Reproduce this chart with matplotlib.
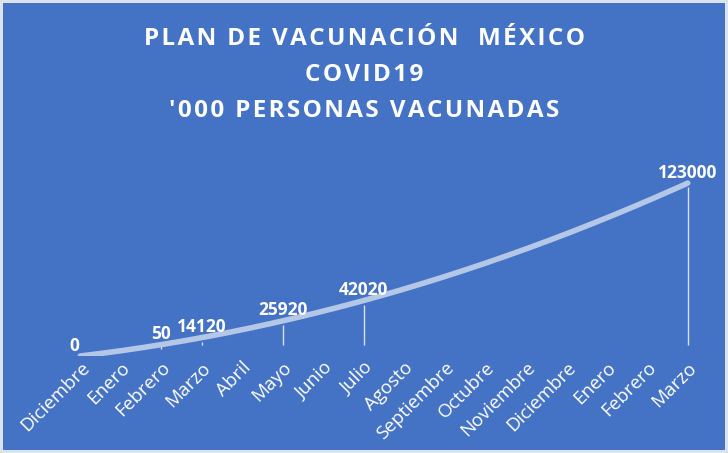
import numpy as np
import matplotlib.pyplot as plt

meses = ["Diciembre", "Enero", "Febrero", "Marzo", "Abril", "Mayo", "Junio",
         "Julio", "Agosto", "Septiembre", "Octubre", "Noviembre", "Diciembre",
         "Enero", "Febrero", "Marzo"]
# months that carry a value (index into meses) and the vaccinated count ('000)
idx_valor = [0, 2, 3, 5, 7, 15]
vacunados = [0, 50, 14120, 25920, 42020, 123000]
titulo = ["PLAN DE VACUNACIÓN  MÉXICO", "COVID19", "'000 PERSONAS VACUNADAS"]

azul = "#4472C4"
linea = "#B4C7E7"

fig = plt.figure(figsize=(7.28, 4.53), dpi=100)
fig.patch.set_facecolor(azul)
fig.patch.set_edgecolor("#dde3ec")
fig.patch.set_linewidth(4)

ax = fig.add_axes([60 / 728, 1 - 356 / 453, 648 / 728, 182 / 453])
ax.set_facecolor(azul)

# quadratic trend line through the origin, as in the excel chart
xv = np.array(idx_valor, dtype=float)
A = np.column_stack([xv, xv ** 2])
coef, *_ = np.linalg.lstsq(A, np.array(vacunados, dtype=float), rcond=None)
tendencia = lambda x: coef[0] * x + coef[1] * x ** 2

xs = np.linspace(0, len(meses) - 1, 200)
ax.plot(xs, tendencia(xs), color=linea, lw=4, solid_capstyle="round", zorder=3)

for x, v in zip(idx_valor, vacunados):
    yc = tendencia(x)
    if x > 0:
        ax.vlines(x, 8000, yc - 3000, color="white", lw=1, alpha=0.8, zorder=2)
    dx = -4 if x == 0 else 0
    ax.annotate(str(v), (x, yc), xytext=(dx, 1), textcoords="offset points",
                ha="center", va="bottom", color="white", fontsize=12.5,
                fontweight="bold", family="Open Sans", zorder=4,
                annotation_clip=False)

ax.set_xlim(-0.5, len(meses) - 0.5)
ax.set_ylim(0, 130000)
ax.set_xticks(range(len(meses)))
ax.set_xticklabels(meses, rotation=45, ha="right", rotation_mode="anchor",
                   color="white", fontsize=13.5, family="Open Sans")
ax.tick_params(axis="x", length=0, pad=2)
ax.set_yticks([])
for s in ax.spines.values():
    s.set_visible(False)

# spaced-out title letters (hair spaces)
hs = "\u200a"
texto = "\n".join(hs.join(linea_t) for linea_t in titulo)
fig.text(0.5, 1 - 27 / 453, texto, ha="center", va="top", color="white",
         fontsize=17.5, fontweight="bold", family=["Open Sans", "DejaVu Sans"],
         linespacing=1.66)

fig.savefig("out.png", dpi=100, facecolor=fig.get_facecolor(),
            edgecolor=fig.get_edgecolor())
